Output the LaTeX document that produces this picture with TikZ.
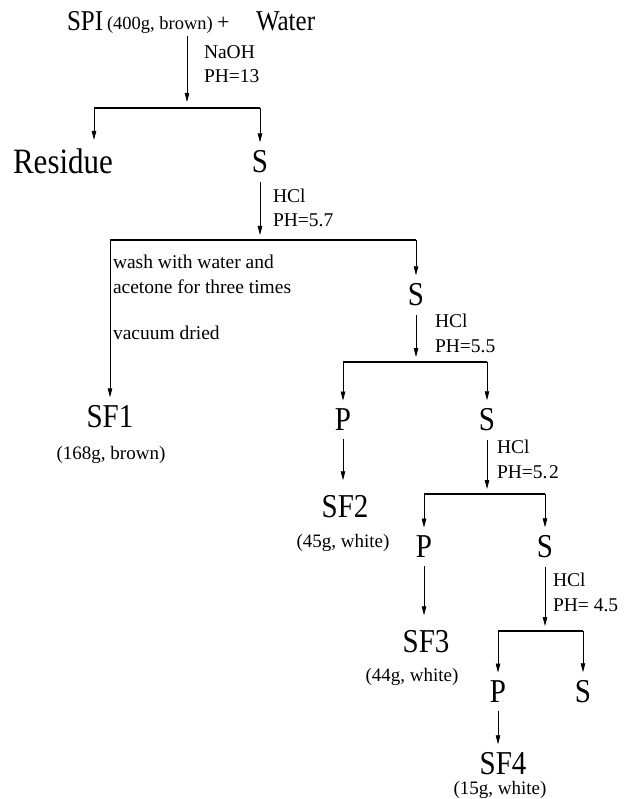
\documentclass[tikz,border=0pt]{standalone}
\usepackage{fontspec}
\usepackage{graphicx}
\setmainfont{Liberation Serif}
\usetikzlibrary{arrows.meta}
\newcommand\tallt[1]{\scalebox{1}[1.15]{#1}}
\begin{document}
\begin{tikzpicture}[x=1pt,y=-1pt,
  big/.style={inner sep=0pt, outer sep=0pt, outer ysep=8.5pt, font=\fontsize{29}{30}\selectfont},
  topbig/.style={inner sep=0pt, outer sep=0pt, anchor=base west, font=\fontsize{25}{26}\selectfont},
  small/.style={inner sep=0pt, outer sep=0pt, align=left, anchor=west, font=\fontsize{19.5}{24.5}\selectfont},
  mass/.style={inner sep=0pt, outer sep=0pt, font=\fontsize{19}{22}\selectfont},
  arr/.style={line width=0.8pt, -{Triangle[length=9pt,width=4.5pt]}},
  hline/.style={line width=1.3pt}]
\fill[white] (0,0) rectangle (623,799);
\useasboundingbox (0,0) rectangle (623,799);
% top
\node[topbig] (spi) at (67,31) {\tallt{SPI}};
\node[mass, anchor=base west, font=\fontsize{18.5}{22}\selectfont] (spimass) at (107,30) {(400g, brown)};
\node[topbig, font=\fontsize{22}{24}\selectfont] (plus) at (217,30) {+};
\node[topbig] (water) at (256,31) {\tallt{Water}};
\coordinate (t0) at (187,36);
\coordinate (j0) at (187,108);
\node[small] (c0) at (204,64) {NaOH\\PH=13};
\draw[arr, shorten >=6pt] (t0) -- (j0);
\coordinate (h0l) at (94,108);
\coordinate (h0r) at (260,108);
\draw[hline] (h0l) -- (h0r);
\node[big, font=\fontsize{31}{32}\selectfont] (res) at (63,161) {\tallt{Residue}};
\node[big] (s1) at (260,162) {\tallt{S}};
\draw[arr] (h0l) -- (h0l |- res.north);
\draw[arr] (h0r) -- (s1);
% level 1
\coordinate (j1) at (260,240);
\node[small] (c1) at (273,208) {HCl\\PH=5.7};
\draw[arr, shorten >=5pt] (s1) -- (j1);
\coordinate (h1l) at (110,240);
\coordinate (h1r) at (416,240);
\draw[hline] (h1l) -- (h1r);
\node[small] (wash) at (113,274.5) {wash with water and\\acetone for three times};
\node[small] (vac) at (113,333) {vacuum dried};
\node[big] (sf1) at (110,417) {\tallt{SF1}};
\node[mass] (m1) at (111,455) {(168g, brown)};
\draw[arr] (h1l) -- (sf1);
\node[big] (s2) at (416,295) {\tallt{S}};
\draw[arr] (h1r) -- (s2);
% level 2
\coordinate (j2) at (416,362);
\node[small] (c2) at (435,333.5) {HCl\\PH=5.5};
\draw[arr, shorten >=5pt] (s2) -- (j2);
\coordinate (h2l) at (343,362);
\coordinate (h2r) at (487,362);
\draw[hline] (h2l) -- (h2r);
\node[big] (p2) at (343,420) {\tallt{P}};
\node[big] (s3) at (487,420) {\tallt{S}};
\draw[arr] (h2l) -- (p2);
\draw[arr] (h2r) -- (s3);
\node[big] (sf2) at (345,507) {\tallt{SF2}};
\node[mass] (m2) at (343,543) {(45g, white)};
\draw[arr, shorten >=7pt] (p2) -- (p2 |- sf2.north);
% level 3
\coordinate (j3) at (487,494);
\node[small] (c3) at (497,459.5) {HCl\\PH=5.\kern1.5pt2};
\draw[arr, shorten >=5pt] (s3) -- (j3);
\coordinate (h3l) at (424,494);
\coordinate (h3r) at (545,494);
\draw[hline] (h3l) -- (h3r);
\node[big] (p3) at (424,547) {\tallt{P}};
\node[big] (s4) at (545,547) {\tallt{S}};
\draw[arr] (h3l) -- (p3);
\draw[arr] (h3r) -- (s4);
\node[big] (sf3) at (426,642) {\tallt{SF3}};
\node[mass] (m3) at (412,677) {(44g, white)};
\draw[arr, shorten >=7pt] (p3) -- (p3 |- sf3.north);
% level 4
\coordinate (j4) at (545,631);
\node[small] (c4) at (553,592.5) {HCl\\PH= 4.5};
\draw[arr, shorten >=5pt] (s4) -- (j4);
\coordinate (h4l) at (498,631);
\coordinate (h4r) at (583,631);
\draw[hline] (h4l) -- (h4r);
\node[big] (p4) at (498,692) {\tallt{P}};
\node[big] (s5) at (583,692) {\tallt{S}};
\draw[arr] (h4l) -- (p4);
\draw[arr] (h4r) -- (s5);
\node[big] (sf4) at (503,764) {\tallt{SF4}};
\node[mass] (m4) at (500,790) {(15g, white)};
\draw[arr] (p4) -- (p4 |- sf4.north);
\end{tikzpicture}
\end{document}
